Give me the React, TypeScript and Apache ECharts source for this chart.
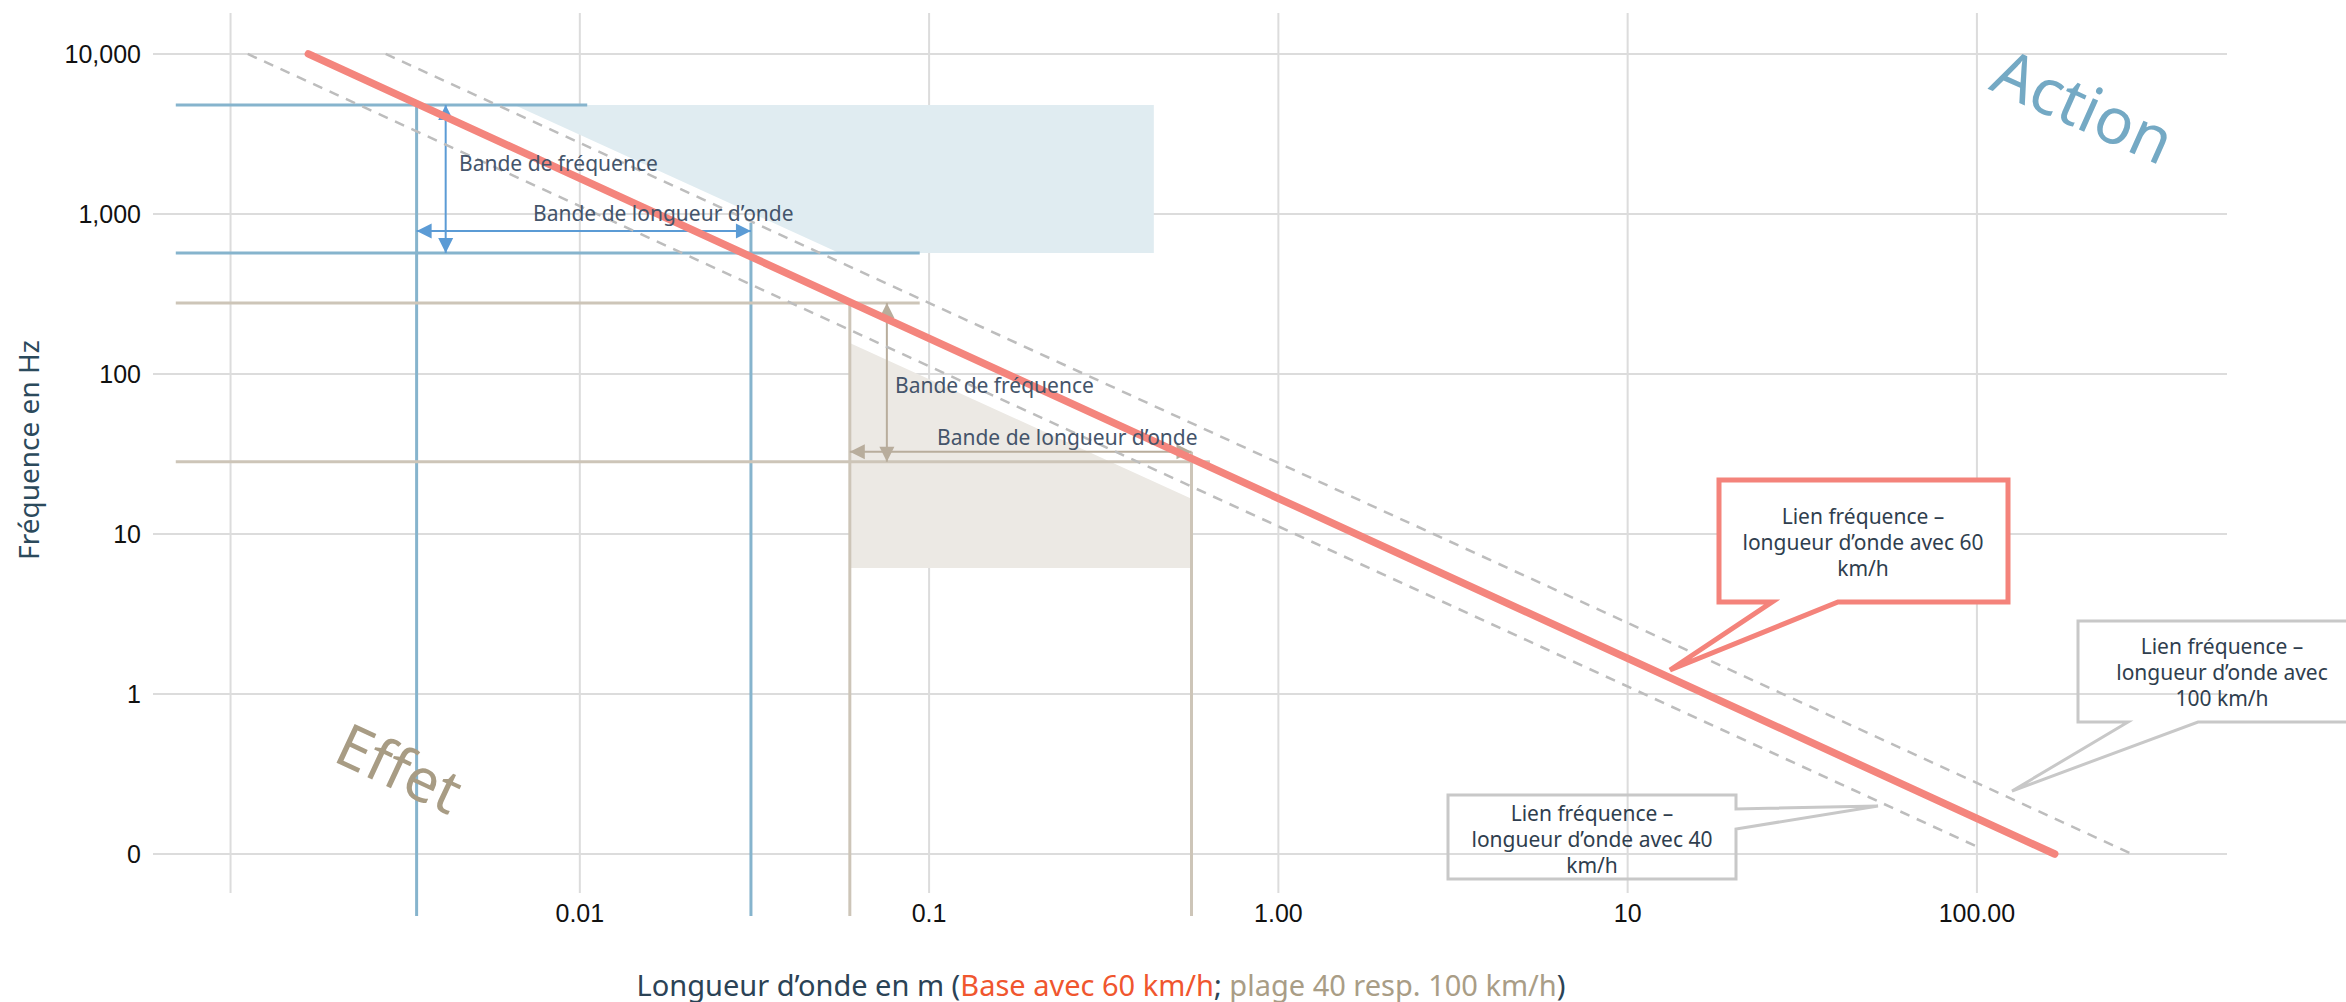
import React, { useEffect, useRef } from 'react';
import * as echarts from 'echarts';

const L = (v: number) => Math.log10(v);

// ---- axis frame (decades, log10) ----
const xLogMin = -3.222;
const xLogMax = 2.716;
const yLogMin = -1.3875;
const yLogMax = 4.256;
const gridYLogBottom = -1.244;

// ---- ticks ----
const xTickValues = [0.001, 0.01, 0.1, 1, 10, 100];
const xTickLabels = ['', '0.01', '0.1', '1.00', '10', '100.00'];
const yTickValues = [10000, 1000, 100, 10, 1, 0.1];
const yTickLabels = ['10,000', '1,000', '100', '10', '1', '0'];

// ---- frequency / wavelength lines [wavelength m, frequency Hz] ----
const base60 = [[0.00167, 10000], [167, 0.1]];
const range40 = [[0.00112, 10000], [103, 0.108]];
const range100 = [[0.00278, 10000], [278, 0.1]];

// ---- bands ----
const lineStartWave = 0.000697;
const bandBottomFreq = 0.041;
const actionFreq = [570, 4800];
const actionWave = [0.00341, 0.0309];
const effectFreq = [28.3, 278];
const effectWave = [0.0593, 0.564];

const actionShade = [[0.0065, 4800], [0.44, 4800], [0.44, 570], [0.0553, 570]];
const effectShade = [[0.0593, 156], [0.564, 16.6], [0.564, 6.13], [0.0593, 6.13]];

// segments [wave1, freq1, wave2, freq2]
const actionLines = [
  [lineStartWave, actionFreq[1], 0.0105, actionFreq[1]],
  [lineStartWave, actionFreq[0], 0.094, actionFreq[0]],
  [actionWave[0], actionFreq[1], actionWave[0], bandBottomFreq],
  [actionWave[1], 880, actionWave[1], bandBottomFreq],
];
const effectLines = [
  [lineStartWave, effectFreq[1], 0.094, effectFreq[1]],
  [lineStartWave, effectFreq[0], 0.637, effectFreq[0]],
  [effectWave[0], effectFreq[1], effectWave[0], bandBottomFreq],
  [effectWave[1], 32.7, effectWave[1], bandBottomFreq],
];
const actionArrows = [
  [0.00413, actionFreq[1], 0.00413, actionFreq[0]],
  [actionWave[0], 783, actionWave[1], 783],
];
const effectArrows = [
  [0.0757, effectFreq[1], 0.0757, effectFreq[0]],
  [effectWave[0], 32.7, effectWave[1], 32.7],
];

const FONT = "'Noto Sans', 'Open Sans', sans-serif";
const NUMFONT = "'Liberation Sans', Arial, sans-serif";
const TXT = '#2F3E4E';

const logPts = (pts: number[][]) => pts.map(([x, y]) => [L(x), L(y)]);
const logSegs = (segs: number[][]) => segs.map((s) => [L(s[0]), L(s[1]), L(s[2]), L(s[3])]);

const gridSegs = [
  ...xTickValues.map((v) => [L(v), gridYLogBottom, L(v), yLogMax]),
  ...yTickValues.map((v) => [xLogMin, L(v), xLogMax, L(v)]),
];

function segSeries(name: string, data: number[][], color: string, width: number, z: number) {
  return {
    type: 'custom',
    name,
    z,
    silent: true,
    data,
    encode: { x: [0, 2], y: [1, 3] },
    renderItem: (_p: any, api: any) => {
      const p1 = api.coord([api.value(0), api.value(1)]);
      const p2 = api.coord([api.value(2), api.value(3)]);
      return {
        type: 'line',
        shape: { x1: p1[0], y1: p1[1], x2: p2[0], y2: p2[1] },
        style: { stroke: color, lineWidth: width },
      };
    },
  };
}

function arrowSeries(name: string, data: number[][], color: string, z: number) {
  const HL = 15;
  const HW = 7.5;
  return {
    type: 'custom',
    name,
    z,
    silent: true,
    data,
    encode: { x: [0, 2], y: [1, 3] },
    renderItem: (_p: any, api: any) => {
      const p1 = api.coord([api.value(0), api.value(1)]);
      const p2 = api.coord([api.value(2), api.value(3)]);
      const dx = p2[0] - p1[0];
      const dy = p2[1] - p1[1];
      const len = Math.hypot(dx, dy) || 1;
      const ux = dx / len;
      const uy = dy / len;
      const nx = -uy;
      const ny = ux;
      const head = (t: number[], dir: number) => [
        [t[0], t[1]],
        [t[0] - dir * ux * HL + nx * HW, t[1] - dir * uy * HL + ny * HW],
        [t[0] - dir * ux * HL - nx * HW, t[1] - dir * uy * HL - ny * HW],
      ];
      return {
        type: 'group',
        children: [
          { type: 'line', shape: { x1: p1[0], y1: p1[1], x2: p2[0], y2: p2[1] }, style: { stroke: color, lineWidth: 2 } },
          { type: 'polygon', shape: { points: head(p2, 1) }, style: { fill: color } },
          { type: 'polygon', shape: { points: head(p1, -1) }, style: { fill: color } },
        ],
      };
    },
  };
}

const shadeColors = ['#E0ECF1', '#ECE9E4'];
const shades = [actionShade, effectShade];

function labelOf(values: number[], labels: string[], v: number) {
  const i = values.findIndex((t) => Math.abs(L(t) - v) < 1e-6);
  return i >= 0 ? labels[i] : '';
}

function calloutText(x: number, y: number, text: string) {
  return {
    type: 'text',
    x,
    y,
    z: 101,
    silent: true,
    style: {
      text,
      fill: TXT,
      fontFamily: FONT,
      fontSize: 21,
      lineHeight: 26,
      align: 'center',
      verticalAlign: 'middle',
    },
  };
}

function bandLabel(x: number, y: number, text: string) {
  return {
    type: 'text',
    x,
    y,
    z: 101,
    silent: true,
    style: { text, fill: '#44546A', fontFamily: FONT, fontSize: 21, align: 'left', verticalAlign: 'middle' },
  };
}

const option: any = {
  animation: false,
  grid: { left: 153, right: 119, top: 13, bottom: 86, containLabel: false },
  xAxis: {
    type: 'value',
    min: xLogMin,
    max: xLogMax,
    axisLine: { show: false },
    axisTick: { show: false },
    splitLine: { show: false },
    axisLabel: {
      customValues: xTickValues.slice(1).map(L),
      formatter: (v: number) => labelOf(xTickValues, xTickLabels, v),
      fontFamily: NUMFONT,
      fontSize: 25,
      color: '#111',
      margin: -3,
      verticalAlign: 'middle',
    },
  },
  yAxis: {
    type: 'value',
    min: yLogMin,
    max: yLogMax,
    axisLine: { show: false },
    axisTick: { show: false },
    splitLine: { show: false },
    axisLabel: {
      customValues: yTickValues.map(L),
      formatter: (v: number) => labelOf(yTickValues, yTickLabels, v),
      fontFamily: NUMFONT,
      fontSize: 25,
      color: '#111',
      margin: 12,
    },
  },
  series: [
    segSeries('grid', gridSegs, '#DCDCDC', 2, 1),
    {
      type: 'custom',
      name: 'shades',
      z: 2,
      silent: true,
      data: [[0, 0], [1, 1]],
      renderItem: (params: any, api: any) => {
        const poly = logPts(shades[params.dataIndex]);
        return {
          type: 'polygon',
          shape: { points: poly.map((p) => api.coord(p)) },
          style: { fill: shadeColors[params.dataIndex] },
        };
      },
    },
    segSeries('action lines', logSegs(actionLines), '#86B4CD', 3, 3),
    segSeries('effect lines', logSegs(effectLines), '#CDC5B8', 3, 3),
    arrowSeries('action arrows', logSegs(actionArrows), '#5B9BD5', 4),
    arrowSeries('effect arrows', logSegs(effectArrows), '#B8AD9C', 4),
    {
      type: 'line',
      name: '40 km/h',
      z: 5,
      silent: true,
      symbol: 'none',
      data: logPts(range40),
      lineStyle: { color: '#BDBDBD', width: 2.5, type: [10, 8] },
    },
    {
      type: 'line',
      name: '100 km/h',
      z: 5,
      silent: true,
      symbol: 'none',
      data: logPts(range100),
      lineStyle: { color: '#BDBDBD', width: 2.5, type: [10, 8] },
    },
    {
      type: 'line',
      name: '60 km/h',
      z: 6,
      silent: true,
      symbol: 'none',
      data: logPts(base60),
      lineStyle: { color: '#F4857D', width: 7.5, cap: 'round' },
    },
  ],
  graphic: [
    // rotated region names
    {
      type: 'text',
      x: 2084,
      y: 105,
      rotation: (-24 * Math.PI) / 180,
      z: 100,
      silent: true,
      style: { text: 'Action', fill: '#74A9C4', fontFamily: FONT, fontSize: 64, align: 'center', verticalAlign: 'middle' },
    },
    {
      type: 'text',
      x: 400,
      y: 767,
      rotation: (-25 * Math.PI) / 180,
      z: 100,
      silent: true,
      style: { text: 'Effet', fill: '#A89C84', fontFamily: FONT, fontSize: 60, align: 'center', verticalAlign: 'middle' },
    },
    // band labels
    bandLabel(459, 163, 'Bande de fréquence'),
    bandLabel(533, 213, 'Bande de longueur d’onde'),
    bandLabel(895, 385, 'Bande de fréquence'),
    bandLabel(937, 437, 'Bande de longueur d’onde'),
    // callouts
    {
      type: 'polygon',
      z: 100,
      silent: true,
      shape: { points: [[1719, 480], [2008, 480], [2008, 602], [1838, 602], [1670, 670], [1772, 602], [1719, 602]] },
      style: { fill: '#fff', stroke: '#F4837B', lineWidth: 5, lineJoin: 'miter' },
    },
    calloutText(1863, 542, 'Lien fréquence –\nlongueur d’onde avec 60\nkm/h'),
    {
      type: 'polygon',
      z: 100,
      silent: true,
      shape: { points: [[2078, 621], [2366, 621], [2366, 722], [2198, 722], [2012, 791], [2128, 722], [2078, 722]] },
      style: { fill: 'none', stroke: '#C8C8C8', lineWidth: 3, lineJoin: 'miter' },
    },
    calloutText(2222, 672, 'Lien fréquence –\nlongueur d’onde avec\n100 km/h'),
    {
      type: 'polygon',
      z: 100,
      silent: true,
      shape: { points: [[1448, 795], [1736, 795], [1736, 809], [1878, 806], [1736, 829], [1736, 879], [1448, 879]] },
      style: { fill: 'none', stroke: '#C8C8C8', lineWidth: 3, lineJoin: 'miter' },
    },
    calloutText(1592, 839, 'Lien fréquence –\nlongueur d’onde avec 40\nkm/h'),
    // axis titles
    {
      type: 'text',
      x: 28,
      y: 450,
      rotation: Math.PI / 2,
      z: 100,
      silent: true,
      style: { text: 'Fréquence en Hz', fill: '#2B4A5C', fontFamily: FONT, fontSize: 28, align: 'center', verticalAlign: 'middle' },
    },
    {
      type: 'text',
      x: 1101,
      y: 984,
      z: 100,
      silent: true,
      style: {
        text: '{a|Longueur d’onde en m (}{b|Base avec 60 km/h}{a|; }{c|plage 40 resp. 100 km/h}{a|)}',
        fontFamily: FONT,
        fontSize: 29,
        lineHeight: 30,
        align: 'center',
        verticalAlign: 'middle',
        rich: {
          a: { fill: '#2B4356', fontFamily: FONT, fontSize: 29, lineHeight: 30 },
          b: { fill: '#F0562E', fontFamily: FONT, fontSize: 29, lineHeight: 30 },
          c: { fill: '#A99D86', fontFamily: FONT, fontSize: 29, lineHeight: 30 },
        },
      },
    },
  ],
};

export default function App() {
  const ref = useRef<HTMLDivElement>(null);
  useEffect(() => {
    document.body.style.margin = '0';
    const chart = echarts.init(ref.current as HTMLDivElement, null, { renderer: 'svg' });
    chart.setOption(option);
    return () => chart.dispose();
  }, []);
  return <div ref={ref} style={{ width: 2346, height: 1002 }} />;
}
